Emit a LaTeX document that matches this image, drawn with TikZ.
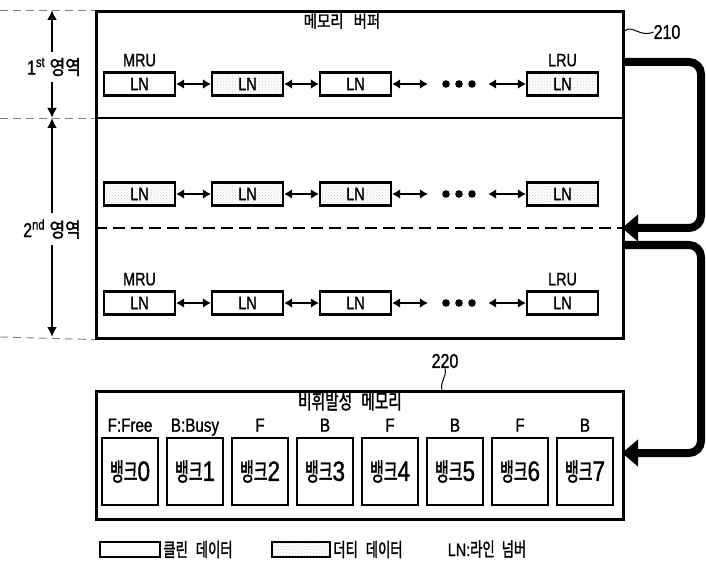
\documentclass[tikz,border=0pt]{standalone}
\usepackage{fontspec}
\setmainfont[FakeStretch=0.8,FakeBold=1.2]{Liberation Sans}
\newfontfamily\kr[FakeStretch=0.85,FakeBold=1.5]{Noto Sans CJK KR}
\newfontfamily\krn[FakeStretch=0.7,FakeBold=1.5]{Noto Sans CJK KR}
\newfontfamily\krb[FakeStretch=0.6,FakeBold=1.5]{Noto Sans CJK KR}
\usetikzlibrary{arrows.meta,patterns,calc}
\begin{document}
\begin{tikzpicture}[x=1pt,y=-1pt,
  frame/.style={draw, line width=2.6pt, inner sep=0pt},
  lnbox/.style={draw, line width=2.4pt, minimum width=71pt, minimum height=23pt, inner sep=0pt, font=\fontsize{18}{18}\selectfont},
  dirty/.style={lnbox, preaction={fill=white}, pattern=crosshatch dots, pattern color=gray!40},
  dotsbox/.style={minimum width=60pt, minimum height=20pt, inner sep=0pt},
  link/.style={line width=2pt, {Latex[length=8pt,width=10pt]}-{Latex[length=8pt,width=10pt]}},
  lbl/.style={inner sep=0pt, font=\fontsize{18}{18}\selectfont},
  dim/.style={line width=2.4pt, -{Latex[length=10pt,width=10pt]}},
  guide/.style={draw=gray, line width=0.9pt, dash pattern=on 8pt off 5pt},
  bank/.style={draw, line width=2.6pt, minimum width=56pt, minimum height=67pt, inner sep=0pt},
  banktxt/.style={inner sep=0pt, font=\fontsize{19}{19}\selectfont, anchor=base},
  big/.style={line width=8pt, rounded corners=12pt, -{Triangle[length=16pt,width=26pt]}},
  leader/.style={line width=1pt}]
\useasboundingbox (0,0) rectangle (706,569);

% memory buffer
\node[frame, minimum width=527pt, minimum height=327pt, anchor=north west] (buf) at (95,10) {};
\coordinate (d1w) at (95,118); \coordinate (d1e) at (622,118);
\draw[line width=2.4pt] (d1w) -- (d1e);
\coordinate (d2w) at (95,228); \coordinate (d2e) at (622,228);
\draw[line width=2.4pt, dash pattern=on 12pt off 6pt] (d2w) -- (d2e);
\node[inner sep=0pt, font=\kr\fontsize{17}{17}\selectfont] (buft) at (342,21) {메모리\hspace{10pt}버퍼};

% rows
\foreach \r/\y/\sa/\sb/\sc/\sd in {a/84/lnbox/dirty/lnbox/dirty, b/194/dirty/dirty/dirty/dirty, c/303/lnbox/lnbox/lnbox/lnbox}{
  \node[\sa] (\r1) at (139.5,\y) {LN};
  \node[\sb] (\r2) at (247.5,\y) {LN};
  \node[\sc] (\r3) at (355.5,\y) {LN};
  \node[dotsbox] (\r d) at (458,\y) {};
  \node[\sd] (\r4) at (562.5,\y) {LN};
  \draw[link] (\r1) -- (\r2);
  \draw[link] (\r2) -- (\r3);
  \draw[link] (\r3) -- (\r d);
  \draw[link] (\r d) -- (\r4);
  \foreach \dx in {-12,1,14} \fill (\r d.center) ++(\dx,0) circle (3.8pt);
}
\node[lbl, anchor=base] (mrua) at ($(a1.north)+(0,-5)$) {MRU};
\node[lbl, anchor=base] (lrua) at ($(a4.north)+(0,-5)$) {LRU};
\node[lbl, anchor=base] (mruc) at ($(c1.north)+(0,-5)$) {MRU};
\node[lbl, anchor=base] (lruc) at ($(c4.north)+(0,-5)$) {LRU};

% 210 leader
\node[inner sep=0pt, font=\fontsize{20}{20}\selectfont] (n210) at (667,32) {210};
\draw[leader] (buf.north east |- 0,31) .. controls (632,24) and (640,38) .. (n210.west);

% left dimension arrows
\coordinate (t1) at (52,10); \coordinate (t2) at (52,118); \coordinate (t3) at (52,337);
\draw[guide] (0,10) -- (buf.north west);
\draw[guide] (0,118) -- (d1w);
\draw[guide] (0,337) -- (buf.south west);
\node[fill=white, inner xsep=1pt, inner ysep=6pt, font=\fontsize{20}{20}\selectfont] (r1) at (54,67) {1\textsuperscript{st} {\kr\fontsize{20}{20}\selectfont 영역}};
\node[fill=white, inner xsep=1pt, inner ysep=6pt, font=\fontsize{20}{20}\selectfont] (r2) at (52,229) {2\textsuperscript{nd} {\kr\fontsize{20}{20}\selectfont 영역}};
\draw[dim] (r1.north -| t1) -- (t1);
\draw[dim] (r1.south -| t1) -- (t2);
\draw[dim] (r2.north -| t1) -- (t2);
\draw[dim] (r2.south -| t1) -- (t3);

% non-volatile memory
\node[frame, minimum width=527pt, minimum height=128pt, anchor=north west] (nvm) at (95,390) {};
\node[inner sep=0pt, font=\krn\fontsize{21}{21}\selectfont] (nvmt) at (350,401) {비휘발성\hspace{9pt}메모리};
\node[inner sep=0pt, font=\fontsize{20}{20}\selectfont] (n220) at (445,361) {220};
\draw[leader] (n220.south) .. controls (447,378) and (440,380) .. (nvm.north -| 442,0);
\foreach \i/\t in {0/F:Free,1/B:Busy,2/F,3/B,4/F,5/B,6/F,7/B}{
  \node[bank] (bk\i) at ({130+65*\i},471.5) {{\krb\fontsize{25}{25}\selectfont 뱅크}{\fontsize{28}{28}\selectfont\i}};
  \node[banktxt] (bl\i) at ($(bk\i.north)+(0,-5)$) {\t};
}

% thick arrows
\coordinate (o1) at (622,62); \coordinate (i1) at (622,228);
\coordinate (o2) at (622,245); \coordinate (i2) at (622,453);
\draw[big] (o1) -- (701,62) -- (701,228) -- (i1);
\draw[big] (o2) -- (701,245) -- (701,453) -- (i2);

% legend
\node[draw, line width=2.4pt, minimum width=60pt, minimum height=15pt, inner sep=0pt] (lgc) at (130,549.5) {};
\node[inner sep=0pt, anchor=west, font=\krn\fontsize{19}{19}\selectfont] (lgct) at ($(lgc.east)+(2,0)$) {클린\hspace{8pt}데이터};
\node[draw, line width=2.4pt, minimum width=58pt, minimum height=15pt, inner sep=0pt, preaction={fill=white}, pattern=crosshatch dots, pattern color=gray!40] (lgd) at (301,549.5) {};
\node[inner sep=0pt, anchor=west, font=\krn\fontsize{19}{19}\selectfont] (lgdt) at ($(lgd.east)+(2,0)$) {더티\hspace{8pt}데이터};
\node[inner sep=0pt, font=\fontsize{18}{18}\selectfont] (lgln) at (487,549) {LN:{\krn\fontsize{19}{19}\selectfont 라인\hspace{7pt}넘버}};
\end{tikzpicture}
\end{document}
